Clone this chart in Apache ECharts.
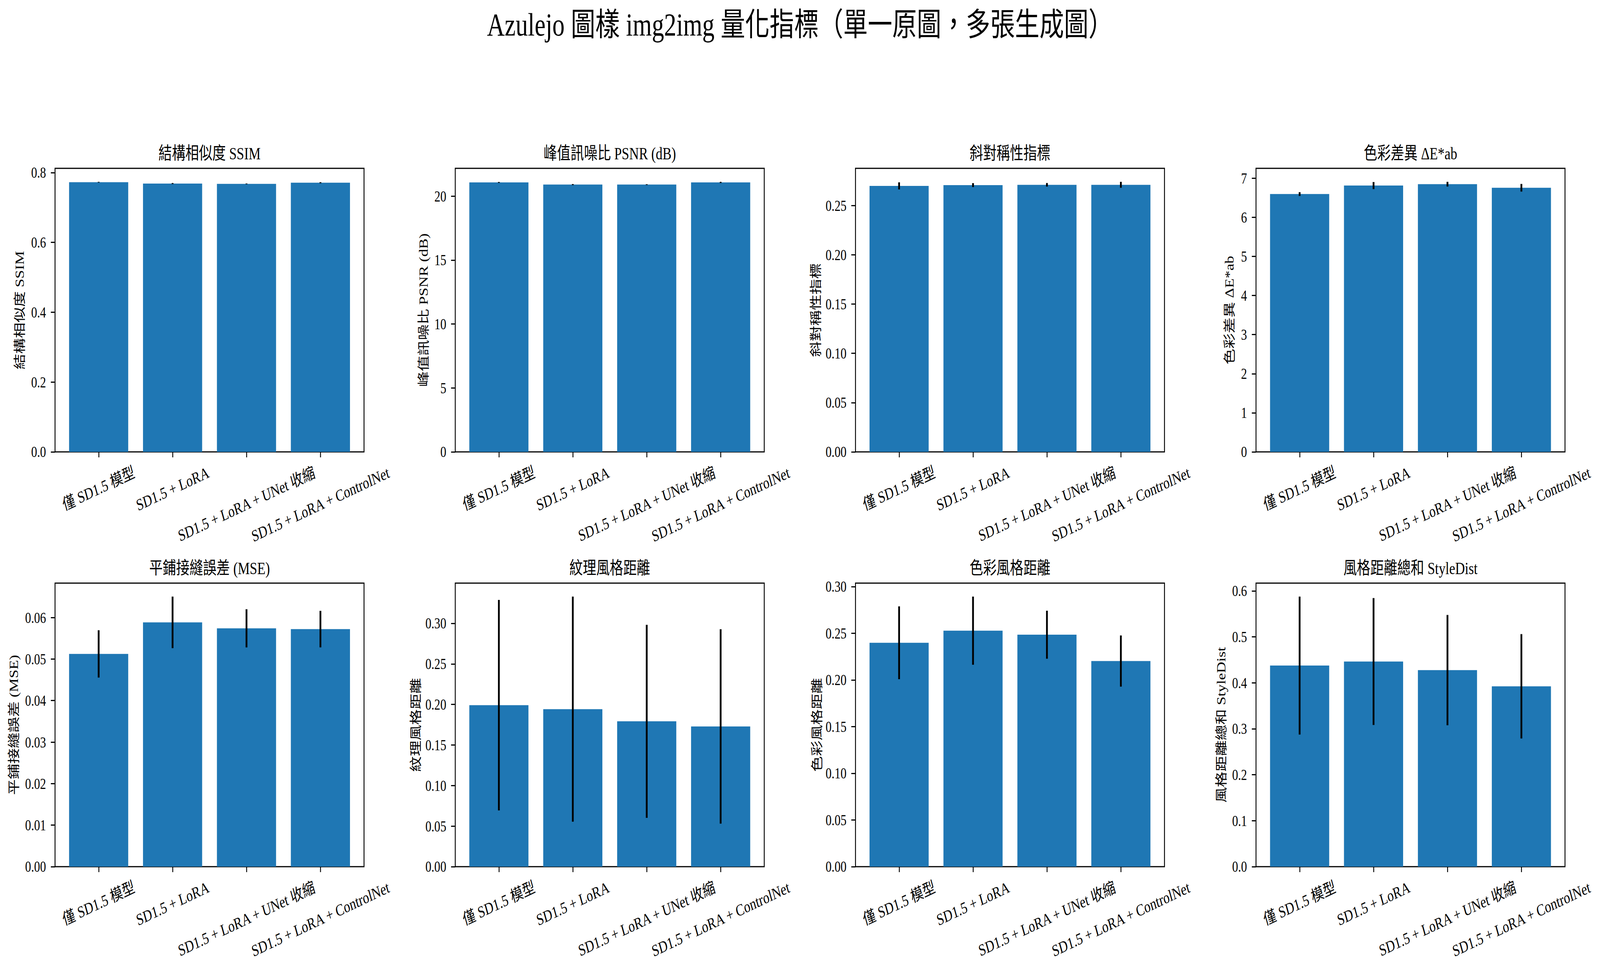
<!DOCTYPE html>
<html><head><meta charset="utf-8">
<script src="https://cdn.jsdelivr.net/npm/echarts@6/dist/echarts.min.js"></script>
<style>html,body{margin:0;padding:0;background:#fff;overflow:hidden}
#c{position:absolute;left:0;top:0;width:5349px;height:2481px;transform-origin:0 0}</style>
</head><body><div id="c"></div>
<script>
// ---------- data ----------
const suptitle = 'Azulejo 圖樣 img2img 量化指標（單一原圖，多張生成圖）';
const categories = ['僅 SD1.5 模型', 'SD1.5 + LoRA', 'SD1.5 + LoRA + UNet 收縮', 'SD1.5 + LoRA + ControlNet'];
const panelTitles = ['結構相似度 SSIM', '峰值訊噪比 PSNR (dB)', '斜對稱性指標', '色彩差異 ΔE*ab',
                     '平鋪接縫誤差 (MSE)', '紋理風格距離', '色彩風格距離', '風格距離總和 StyleDist'];
const yLabels = ['結構相似度 SSIM', '峰值訊噪比 PSNR (dB)', '斜對稱性指標', '色彩差異 ΔE*ab',
                 '平鋪接縫誤差 (MSE)', '紋理風格距離', '色彩風格距離', '風格距離總和 StyleDist'];

const ssimMean  = [0.7725, 0.7686, 0.7678, 0.7710];
const ssimStd   = [0.0010, 0.0015, 0.0010, 0.0015];
const psnrMean  = [21.07, 20.90, 20.90, 21.07];
const psnrStd   = [0.035, 0.040, 0.030, 0.045];
const symMean   = [0.2700, 0.2708, 0.2711, 0.2711];
const symStd    = [0.0036, 0.0020, 0.0018, 0.0030];
const deMean    = [6.594, 6.811, 6.846, 6.755];
const deStd     = [0.049, 0.091, 0.060, 0.098];
const mseMean   = [0.05124, 0.05883, 0.05740, 0.05721];
const mseStd    = [0.0057, 0.0062, 0.0046, 0.0044];
const texMean   = [0.1991, 0.1942, 0.1792, 0.1729];
const texStd    = [0.1298, 0.1387, 0.1190, 0.1198];
const colMean   = [0.2398, 0.2527, 0.2484, 0.2202];
const colStd    = [0.0390, 0.0365, 0.0257, 0.0274];
const styleMean = [0.4375, 0.4463, 0.4276, 0.3924];
const styleStd  = [0.1500, 0.1380, 0.1200, 0.1135];

const ssimTicks  = [0, 0.2, 0.4, 0.6, 0.8];
const psnrTicks  = [0, 5, 10, 15, 20];
const symTicks   = [0, 0.05, 0.10, 0.15, 0.20, 0.25];
const deTicks    = [0, 1, 2, 3, 4, 5, 6, 7];
const mseTicks   = [0, 0.01, 0.02, 0.03, 0.04, 0.05, 0.06];
const texTicks   = [0, 0.05, 0.10, 0.15, 0.20, 0.25, 0.30];
const colTicks   = [0, 0.05, 0.10, 0.15, 0.20, 0.25, 0.30];
const styleTicks = [0, 0.1, 0.2, 0.3, 0.4, 0.5, 0.6];
const tickDecimals = [1, 0, 2, 0, 2, 2, 2, 1];

// ---------- layout / style (reference pixels; whole figure fitted to the viewport) ----------
const W = 5349, H = 2481;
const FONT = "'Liberation Serif', 'Noto Sans CJK TC', serif";
const BAR = '#1f77b4';
const colLeft = [184, 1522, 2860, 4199];
const rowTop = [431, 1493];
const gridW = 1033, gridH = 726;
const nameGaps = [98, 85, 113, 68, 117, 112, 109, 96];
const tickFont = 40, catFont = 42;

const el = document.getElementById('c');
const sx = (window.innerWidth || W) / W, sy = (window.innerHeight || H) / H;
el.style.transform = 'scale(' + sx + ',' + sy + ')';

const panels = [
  [ssimMean, ssimStd, ssimTicks], [psnrMean, psnrStd, psnrTicks],
  [symMean, symStd, symTicks], [deMean, deStd, deTicks],
  [mseMean, mseStd, mseTicks], [texMean, texStd, texTicks],
  [colMean, colStd, colTicks], [styleMean, styleStd, styleTicks]
];

const mctx = document.createElement('canvas').getContext('2d');
function textW(t, size) { mctx.font = size + 'px ' + FONT; return mctx.measureText(t).width; }

const grids = [], xAxes = [], yAxes = [], series = [], titles = [];
titles.push({text: suptitle, left: 'center', top: 22, padding: 0,
  textStyle: {fontSize: 82, fontFamily: FONT, fontWeight: 'normal', color: '#000'}});

panels.forEach(([mean, std, ticks], k) => {
  const r = Math.floor(k / 4), c = k % 4;
  grids.push({left: colLeft[c], top: rowTop[r], width: gridW, height: gridH,
    show: true, borderColor: '#000', borderWidth: 3, backgroundColor: 'transparent', containLabel: false});
  titles.push({text: panelTitles[k], left: colLeft[c] + gridW / 2, top: rowTop[r] - 61, textAlign: 'center', padding: 0,
    textStyle: {fontSize: 45, fontFamily: FONT, fontWeight: 'normal', color: '#000'}});
  let top = 0;
  mean.forEach((v, i) => { top = Math.max(top, v + std[i]); });
  const dec = tickDecimals[k];
  xAxes.push({gridIndex: k, type: 'value', min: -0.59, max: 3.59,
    axisLine: {show: false, onZero: false}, splitLine: {show: false},
    axisTick: {show: true, customValues: [0, 1, 2, 3], length: 14, lineStyle: {color: '#000', width: 3}},
    axisLabel: {show: false}});
  yAxes.push({gridIndex: k, type: 'value', min: 0, max: top * 1.05,
    axisLine: {show: false, onZero: false}, splitLine: {show: false},
    axisTick: {show: true, customValues: ticks, length: 14, lineStyle: {color: '#000', width: 3}},
    axisLabel: {customValues: ticks, formatter: v => Number(v).toFixed(dec), fontSize: tickFont,
      fontFamily: FONT, color: '#000', margin: 30},
    name: yLabels[k], nameLocation: 'middle', nameRotate: 90, nameGap: nameGaps[k],
    nameTextStyle: {fontSize: 40, fontFamily: FONT, color: '#000'}});
  series.push({type: 'custom', xAxisIndex: k, yAxisIndex: k, silent: true,
    data: mean.map((v, i) => [i, v]), encode: {x: 0, y: 1},
    renderItem: (p, api) => {
      const i = api.value(0), v = api.value(1);
      const a = api.coord([i - 0.4, v]), b = api.coord([i + 0.4, 0]);
      return {type: 'rect', shape: {x: a[0], y: a[1], width: b[0] - a[0], height: b[1] - a[1]}, style: {fill: BAR}};
    }});
  series.push({type: 'custom', xAxisIndex: k, yAxisIndex: k, silent: true, z: 5,
    data: mean.map((v, i) => [i, v - std[i], v + std[i]]), encode: {x: 0, y: [1, 2]},
    renderItem: (p, api) => {
      const i = api.value(0);
      const a = api.coord([i, api.value(1)]), b = api.coord([i, api.value(2)]);
      return {type: 'line', shape: {x1: a[0], y1: a[1], x2: b[0], y2: b[1]}, style: {stroke: '#000', lineWidth: 6}};
    }});
  series.push({type: 'custom', xAxisIndex: k, yAxisIndex: k, silent: true, clip: false,
    data: categories.map((name, i) => [i, 0]), encode: {x: 0, y: 1},
    renderItem: (p, api) => {
      const i = api.value(0);
      const pt = api.coord([i, 0]);
      const txt = categories[i];
      const w = textW(txt, catFont), h = catFont * 1.15;
      const th = 20 * Math.PI / 180;
      const bh = w * Math.sin(th) + h * Math.cos(th);
      return {type: 'text', x: pt[0], y: pt[1] + 28 + bh / 2, rotation: th,
        style: {text: txt, font: catFont + 'px ' + FONT, fill: '#000', align: 'center', verticalAlign: 'middle'}};
    }});
});

const chart = echarts.init(el, null, {renderer: 'svg', width: W, height: H});
chart.setOption({animation: false, backgroundColor: '#fff', title: titles,
  grid: grids, xAxis: xAxes, yAxis: yAxes, series: series});
</script></body></html>
